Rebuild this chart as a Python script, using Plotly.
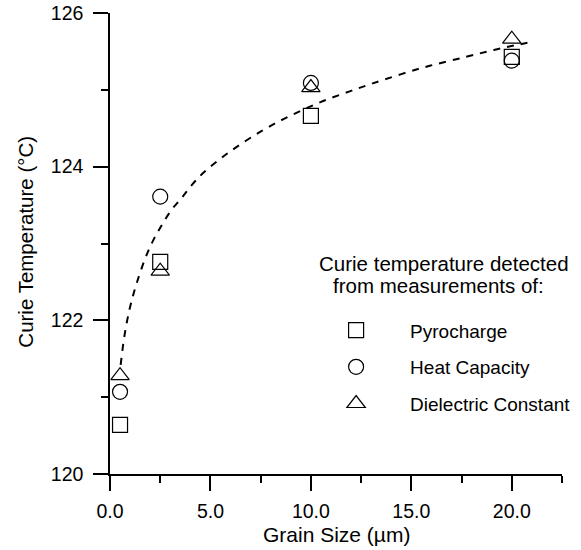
import plotly.graph_objects as go

# Data
grain = [0.5, 2.5, 10.0, 20.0]
pyrocharge = [120.64, 122.76, 124.66, 125.43]
heat_capacity = [121.07, 123.61, 125.09, 125.38]
dielectric = [121.28, 122.64, 125.03, 125.66]

fit_x = [0.53, 0.72, 0.97, 1.30, 1.79, 2.17, 2.56, 3.04, 3.62, 4.10, 4.69, 5.94,
         7.58, 9.03, 10.48, 11.93, 13.04, 15.46, 17.73, 19.47, 21.1]
fit_y = [121.42, 121.80, 122.14, 122.46, 122.83, 123.05, 123.23, 123.43, 123.61,
         123.77, 123.93, 124.19, 124.47, 124.67, 124.84, 124.98, 125.08, 125.28,
         125.43, 125.54, 125.63]

x_ticks = [0, 5, 10, 15, 20]
x_tick_text = ["0.0", "5.0", "10.0", "15.0", "20.0"]
y_ticks = [120, 122, 124, 126]
y_tick_text = ["120", "122", "124", "126"]

FONT = "Liberation Sans, Arial, Helvetica, sans-serif"

fig = go.Figure()
fig.add_trace(go.Scatter(x=fit_x, y=fit_y, mode="lines", line_shape="spline",
                         line=dict(color="black", width=2, dash="7px,7px"),
                         showlegend=False, hoverinfo="skip"))

series = [("Pyrocharge", pyrocharge, "square-open", 15),
          ("Heat Capacity", heat_capacity, "circle-open", 15),
          ("Dielectric Constant", dielectric, "triangle-up-open", 16)]
for name, vals, sym, sz in series:
    fig.add_trace(go.Scatter(x=grain, y=vals, mode="markers", name=name,
                             legendgroup=name,
                             marker=dict(symbol=sym, size=sz, color="black",
                                         line=dict(color="black", width=1.2))))

fig.update_layout(
    width=581, height=550,
    margin=dict(l=110, r=5, t=13, b=76),
    paper_bgcolor="white", plot_bgcolor="white",
    font=dict(family=FONT, size=19, color="black"),
    showlegend=True,
    legend=dict(x=0.425, y=0.353, xanchor="left", yanchor="top",
                bgcolor="rgba(0,0,0,0)", font=dict(size=19),
                itemwidth=98, tracegroupgap=9, traceorder="grouped"),
    xaxis=dict(range=[0, 22.5], tickvals=x_ticks, ticktext=x_tick_text,
               automargin=False,
               showline=True, linecolor="black", linewidth=1.5,
               ticks="outside", ticklen=15, tickwidth=1.5, tickcolor="black",
               minor=dict(dtick=2.5, ticks="outside", ticklen=7, tickwidth=1.5,
                          tickcolor="black"),
               showgrid=False, zeroline=False, ticklabelstandoff=4,
               tickfont=dict(size=19.5)),
    yaxis=dict(range=[120, 126], tickvals=y_ticks, ticktext=y_tick_text,
               automargin=False,
               showline=True, linecolor="black", linewidth=1.5,
               ticks="outside", ticklen=15, tickwidth=1.5, tickcolor="black",
               minor=dict(dtick=1, ticks="outside", ticklen=7, tickwidth=1.5,
                          tickcolor="black"),
               showgrid=False, zeroline=False, ticklabelstandoff=6,
               tickfont=dict(size=19.5)),
    annotations=[
        dict(text="Curie Temperature (°C)", textangle=-90, xref="paper", yref="paper",
             x=-0.187, y=0.505, showarrow=False, font=dict(size=20.5),
             xanchor="center", yanchor="middle"),
        dict(text="Grain Size (µm)", xref="paper", yref="paper",
             x=0.502, y=-0.132, showarrow=False, font=dict(size=21),
             xanchor="center", yanchor="middle"),
        dict(text="Curie temperature detected", xref="paper", yref="paper",
             x=0.740, y=0.456, showarrow=False, font=dict(size=20.5),
             xanchor="center", yanchor="middle"),
        dict(text="from measurements of:", xref="paper", yref="paper",
             x=0.727, y=0.409, showarrow=False, font=dict(size=20.5),
             xanchor="center", yanchor="middle"),
    ],
)

fig.write_html("out.html")
